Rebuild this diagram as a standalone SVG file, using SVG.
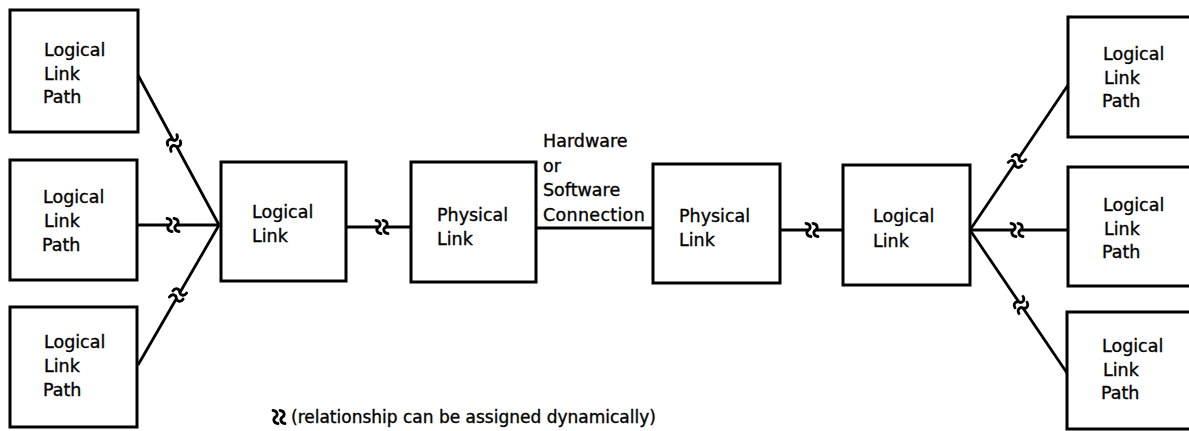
<svg xmlns="http://www.w3.org/2000/svg" xmlns:xlink="http://www.w3.org/1999/xlink" width="1189" height="431" viewBox="0 0 1189 431">
<style>
.box{fill:#fff;stroke:#000;stroke-width:3}
.ln{stroke:#000;stroke-width:2.8;fill:none}
.t{font-family:"DejaVu Sans","Liberation Sans",sans-serif;font-size:17.5px;fill:#000;stroke:#000;stroke-width:0.35}
.fn{font-size:17px}
.wv{stroke:#000;stroke-width:2.8;fill:none;stroke-linecap:round}
</style>
<defs>
<g id="wv2">
<path class="wv" d="M-6,-6.5 C-1,-6 -1,-1.5 -3.5,0 C-6,1.5 -6,6 -1,6.5"/>
<path class="wv" d="M1,-6.5 C6,-6 6,-1.5 3.5,0 C1,1.5 1,6 6,6.5"/>
</g>
<g id="brk">
<rect x="-3.5" y="-2.5" width="7" height="5" fill="#fff"/>
<use xlink:href="#wv2"/>
</g>
</defs>
<rect width="1189" height="431" fill="#fff"/>
<g id="connectors">
<line class="ln" x1="138" y1="75" x2="219" y2="225"/>
<line class="ln" x1="138" y1="225" x2="219" y2="225"/>
<line class="ln" x1="138" y1="365" x2="219" y2="225"/>
<line class="ln" x1="346" y1="227" x2="411" y2="227"/>
<line class="ln" x1="536" y1="228" x2="653" y2="228"/>
<line class="ln" x1="780" y1="230" x2="843" y2="230"/>
<line class="ln" x1="970" y1="230" x2="1068" y2="85"/>
<line class="ln" x1="970" y1="230" x2="1068" y2="230"/>
<line class="ln" x1="970" y1="230" x2="1067" y2="373"/>
<use xlink:href="#brk" transform="translate(174,143) rotate(61.9)"/>
<use xlink:href="#brk" transform="translate(173,225)"/>
<use xlink:href="#brk" transform="translate(178,295) rotate(-60.3)"/>
<use xlink:href="#brk" transform="translate(382,227)"/>
<use xlink:href="#brk" transform="translate(812,230)"/>
<use xlink:href="#brk" transform="translate(1017,161) rotate(-56)"/>
<use xlink:href="#brk" transform="translate(1017,230)"/>
<use xlink:href="#brk" transform="translate(1021,305) rotate(56)"/>
</g>
<g id="llp-l1"><rect class="box" x="10" y="10" width="128" height="122"/>
<text class="t" x="44" y="56">Logical</text><text class="t" x="44" y="80">Link</text><text class="t" x="43" y="103">Path</text></g>
<g id="llp-l2"><rect class="box" x="10" y="160" width="127" height="120"/>
<text class="t" x="43" y="203">Logical</text><text class="t" x="44" y="227">Link</text><text class="t" x="42" y="251">Path</text></g>
<g id="llp-l3"><rect class="box" x="10" y="307" width="127" height="120"/>
<text class="t" x="44" y="348">Logical</text><text class="t" x="44" y="372">Link</text><text class="t" x="43" y="396">Path</text></g>
<g id="ll-left"><rect class="box" x="221" y="162" width="125" height="119"/>
<text class="t" x="252" y="218">Logical</text><text class="t" x="252" y="242">Link</text></g>
<g id="pl-left"><rect class="box" x="411" y="162" width="125" height="120"/>
<text class="t" x="437" y="221">Physical</text><text class="t" x="437" y="245">Link</text></g>
<g id="conn-label">
<text class="t" x="543" y="147">Hardware</text><text class="t" x="543" y="172">or</text><text class="t" x="543" y="196">Software</text><text class="t" x="543" y="221" letter-spacing="0.3">Connection</text></g>
<g id="pl-right"><rect class="box" x="653" y="164" width="127" height="119"/>
<text class="t" x="679" y="222">Physical</text><text class="t" x="679" y="246">Link</text></g>
<g id="ll-right"><rect class="box" x="843" y="165" width="127" height="120"/>
<text class="t" x="873" y="222">Logical</text><text class="t" x="873" y="247">Link</text></g>
<g id="llp-r1"><rect class="box" x="1068" y="17" width="130" height="120"/>
<text class="t" x="1103" y="60">Logical</text><text class="t" x="1104" y="84">Link</text><text class="t" x="1102" y="107">Path</text></g>
<g id="llp-r2"><rect class="box" x="1068" y="167" width="130" height="119"/>
<text class="t" x="1103" y="211">Logical</text><text class="t" x="1104" y="235">Link</text><text class="t" x="1102" y="258">Path</text></g>
<g id="llp-r3"><rect class="box" x="1067" y="312" width="130" height="117"/>
<text class="t" x="1102" y="352">Logical</text><text class="t" x="1103" y="376">Link</text><text class="t" x="1101" y="399">Path</text></g>
<g id="legend">
<use xlink:href="#wv2" transform="translate(279,417)"/>
<text class="t fn" x="291" y="423">(relationship can be assigned dynamically)</text>
</g>
</svg>
